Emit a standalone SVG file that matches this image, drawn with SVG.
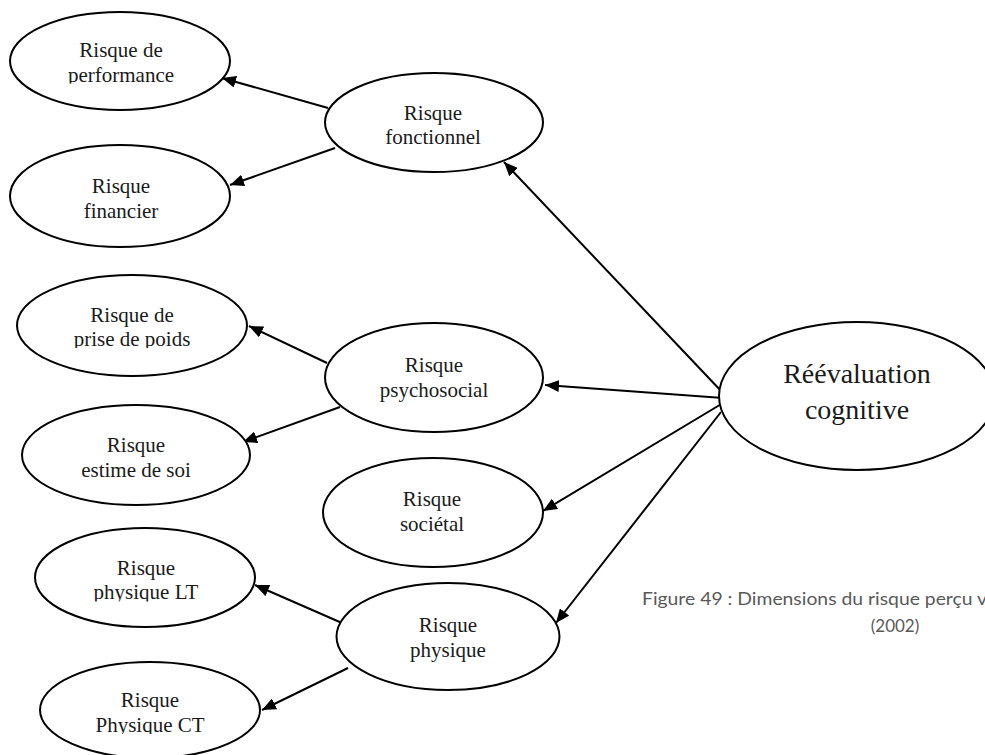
<svg xmlns="http://www.w3.org/2000/svg" width="985" height="755" viewBox="0 0 985 755">
  <style>
    .node ellipse { fill: #ffffff; stroke: #000000; stroke-width: 2; }
    .node text { font-family: "Liberation Serif", "Times New Roman", serif; font-size: 21px; fill: #1a1a1a; text-anchor: middle; }
    .big text { font-size: 28px; }
    .conn line { stroke: #000000; stroke-width: 2; marker-end: url(#arrow); }
    .caption { font-family: Lato, "Open Sans", "Liberation Sans", sans-serif; font-size: 17px; fill: #595959; }
  </style>
  <defs>
    <marker id="arrow" markerUnits="userSpaceOnUse" markerWidth="15" markerHeight="12" refX="14" refY="6" orient="auto">
      <path d="M0,0 L14,6 L0,12 z" fill="#000000"/>
    </marker>
    <clipPath id="c-perf"><rect x="0" y="0" width="300" height="83.5"/></clipPath>
    <clipPath id="c-poids"><rect x="0" y="270" width="300" height="78"/></clipPath>
    <clipPath id="c-lt"><rect x="0" y="520" width="300" height="81.5"/></clipPath>
    <clipPath id="c-ct"><rect x="0" y="650" width="300" height="84"/></clipPath>
  </defs>
  <rect width="985" height="755" fill="#ffffff"/>

  <g id="connectors" class="conn">
    <line x1="328" y1="108" x2="222" y2="78"/>
    <line x1="335" y1="148" x2="230" y2="185"/>
    <line x1="327" y1="363" x2="249" y2="326"/>
    <line x1="340" y1="407" x2="243" y2="442"/>
    <line x1="342" y1="623" x2="255" y2="585"/>
    <line x1="348" y1="668" x2="262" y2="710"/>
    <line x1="723" y1="393" x2="504" y2="162"/>
    <line x1="723" y1="398" x2="545" y2="385"/>
    <line x1="723" y1="403" x2="543" y2="511"/>
    <line x1="721" y1="412" x2="556" y2="623"/>
  </g>

  <g id="performance" class="node">
    <ellipse cx="120" cy="61" rx="110" ry="49"/>
    <text x="121" y="57">Risque de</text>
    <text x="121" y="82" clip-path="url(#c-perf)">performance</text>
  </g>
  <g id="financier" class="node">
    <ellipse cx="120" cy="196" rx="110" ry="51"/>
    <text x="121" y="193">Risque</text>
    <text x="121" y="218">financier</text>
  </g>
  <g id="fonctionnel" class="node">
    <ellipse cx="434" cy="122.5" rx="109" ry="49.5"/>
    <text x="433" y="120">Risque</text>
    <text x="433" y="144">fonctionnel</text>
  </g>
  <g id="prise-de-poids" class="node">
    <ellipse cx="132" cy="325.5" rx="115" ry="50.5"/>
    <text x="132" y="322">Risque de</text>
    <text x="132" y="346" clip-path="url(#c-poids)">prise de poids</text>
  </g>
  <g id="estime-de-soi" class="node">
    <ellipse cx="136" cy="455" rx="114" ry="50"/>
    <text x="136" y="452">Risque</text>
    <text x="136" y="477">estime de soi</text>
  </g>
  <g id="psychosocial" class="node">
    <ellipse cx="434" cy="377.5" rx="109" ry="54.5"/>
    <text x="434" y="372">Risque</text>
    <text x="434" y="397">psychosocial</text>
  </g>
  <g id="societal" class="node">
    <ellipse cx="433" cy="512.5" rx="110" ry="54.5"/>
    <text x="432" y="506">Risque</text>
    <text x="432" y="531">sociétal</text>
  </g>
  <g id="physique-lt" class="node">
    <ellipse cx="145" cy="577.5" rx="110" ry="49.5"/>
    <text x="146" y="575">Risque</text>
    <text x="146" y="599" clip-path="url(#c-lt)">physique LT</text>
  </g>
  <g id="physique-ct" class="node">
    <ellipse cx="150" cy="710" rx="110" ry="48"/>
    <text x="150" y="707">Risque</text>
    <text x="150" y="732" clip-path="url(#c-ct)">Physique CT</text>
  </g>
  <g id="physique" class="node">
    <ellipse cx="448" cy="636.5" rx="111.5" ry="53.5"/>
    <text x="448" y="632">Risque</text>
    <text x="448" y="657">physique</text>
  </g>
  <g id="reevaluation" class="node big">
    <ellipse cx="857" cy="396" rx="138" ry="74"/>
    <text x="857" y="383">Réévaluation</text>
    <text x="857" y="419">cognitive</text>
  </g>

  <g id="caption">
    <text class="caption" x="642" y="605" textLength="345" lengthAdjust="spacingAndGlyphs">Figure 49 : Dimensions du risque perçu v</text>
    <text class="caption" x="895" y="632" text-anchor="middle">(2002)</text>
  </g>
</svg>
